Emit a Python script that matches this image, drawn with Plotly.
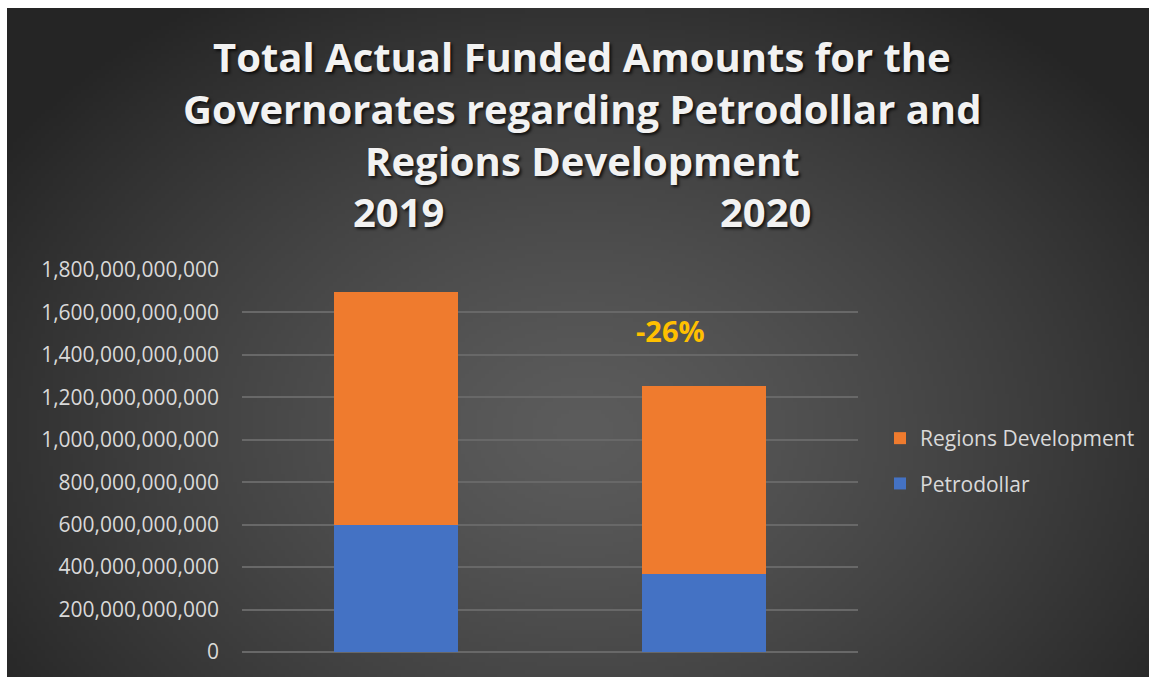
import base64
import struct
import zlib

import numpy as np
import plotly.graph_objects as go

# ---- data -------------------------------------------------------------
years = ["2019", "2020"]
petrodollar = [598e9, 368e9]
regions_development = [1098e9, 885e9]
change_label = "-26%"
y_tick_values = [0, 200e9, 400e9, 600e9, 800e9, 1000e9, 1200e9, 1400e9, 1600e9, 1800e9]

W, H = 1149, 677
# plot-area box in pixels
L, R, T, B = 242, 858, 270, 652
PW, PH = R - L, B - T


def px_x(px):
    return (px - L) / PW


def px_y(py):
    return (B - py) / PH


def png_uri(rgb):
    """Encode an (h, w, 3) uint8 array as a PNG data URI."""
    h, w, _ = rgb.shape
    raw = b"".join(b"\x00" + rgb[i].tobytes() for i in range(h))

    def chunk(tag, data):
        c = struct.pack(">I", len(data)) + tag + data
        return c + struct.pack(">I", zlib.crc32(tag + data) & 0xFFFFFFFF)

    png = b"\x89PNG\r\n\x1a\n"
    png += chunk(b"IHDR", struct.pack(">IIBBBBB", w, h, 8, 2, 0, 0, 0))
    png += chunk(b"IDAT", zlib.compress(raw, 9))
    png += chunk(b"IEND", b"")
    return "data:image/png;base64," + base64.b64encode(png).decode()


# radial dark-grey backdrop, slightly oversized so it runs off the right/bottom edges
BG_W, BG_H = 1172, 692
bw, bh = BG_W // 4, BG_H // 4
yy, xx = np.mgrid[0:bh, 0:bw]
cx, cy = 575 / 4, 420 / 4
r = np.sqrt(((xx - cx) / (700 / 4)) ** 2 + ((yy - cy) / (520 / 4)) ** 2)
t = np.clip(r, 0, 1) ** 1.3
c0, c1 = 92.0, 37.0
g = (c0 + (c1 - c0) * t).astype(np.uint8)
bg = np.stack([g, g, g], axis=-1)

fig = go.Figure()
fig.add_trace(go.Bar(
    x=years, y=petrodollar, name="Petrodollar",
    marker=dict(color="#4472C4", line=dict(width=0)),
    legendgroup="petro", legendrank=2,
))
fig.add_trace(go.Bar(
    x=years, y=regions_development, name="Regions Development",
    marker=dict(color="#EF7B2E", line=dict(width=0)),
    legendgroup="regions", legendrank=1,
))

title_font = dict(family="Open Sans", size=40, color="#f2f2f2", weight="bold",
                  shadow="2px 2px 3px rgba(0,0,0,0.75)")
annotations = []
for text, py in [("Total Actual Funded Amounts for the", 56),
                 ("Governorates regarding Petrodollar and", 108),
                 ("Regions Development", 160)]:
    annotations.append(dict(text=text, x=px_x(582), y=px_y(py), xref="paper", yref="paper",
                            xanchor="center", yanchor="middle", showarrow=False,
                            font=title_font))
for yr, pxc in zip(years, [398, 765]):
    annotations.append(dict(text=yr, x=px_x(pxc), y=px_y(212), xref="paper", yref="paper",
                            xanchor="center", yanchor="middle", showarrow=False,
                            font=title_font))
annotations.append(dict(text=change_label, x=px_x(670), y=px_y(330), xref="paper", yref="paper",
                        xanchor="center", yanchor="middle", showarrow=False,
                        font=dict(family="Open Sans", size=29, color="#FFC000", weight="bold")))

fig.update_layout(
    width=W, height=H, autosize=False,
    margin=dict(l=L, r=W - R, t=T, b=H - B, pad=0, autoexpand=False),
    paper_bgcolor="#ffffff",
    plot_bgcolor="rgba(0,0,0,0)",
    barmode="stack",
    bargap=1 - 124 / 308,
    showlegend=True,
    legend=dict(
        x=px_x(880), y=px_y(461), xanchor="left", yanchor="middle",
        traceorder="grouped", tracegroupgap=15,
        font=dict(family="Open Sans", size=21, color="#d9d9d9"),
        bgcolor="rgba(0,0,0,0)", itemwidth=30,
    ),
    xaxis=dict(visible=False, range=[-0.5, 1.5], type="category"),
    yaxis=dict(
        range=[0, 1.8e12], tickvals=y_tick_values, tickformat=",d",
        showgrid=True, gridcolor="#686868", gridwidth=1.5,
        zeroline=True, zerolinecolor="#686868", zerolinewidth=1.5,
        showline=False, ticks="", ticklabelstandoff=22,
        tickfont=dict(family="Open Sans", size=21, color="#d9d9d9"),
    ),
    annotations=annotations,
    images=[dict(
        source=png_uri(bg), xref="paper", yref="paper",
        x=px_x(7), y=px_y(8), sizex=BG_W / PW, sizey=BG_H / PH,
        xanchor="left", yanchor="top", sizing="stretch", layer="below",
    )],
)

fig.write_html("out.html")
